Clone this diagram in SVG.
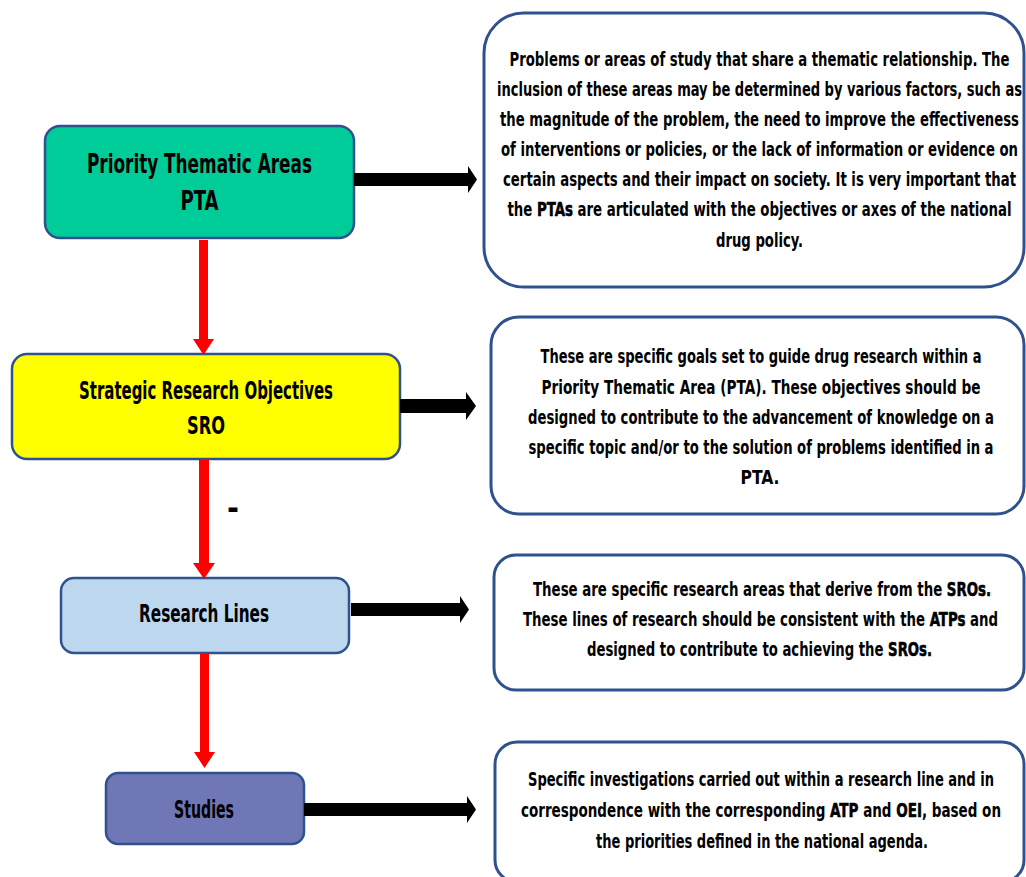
<svg xmlns="http://www.w3.org/2000/svg" width="1026" height="877" viewBox="0 0 1026 877">
<style>
text{font-family:"Liberation Sans Narrow","DejaVu Sans Condensed","Liberation Sans",sans-serif;font-weight:bold;fill:#000;text-anchor:middle}
.node{stroke:#2F528F;stroke-width:2.5}
.desc{fill:#fff;stroke:#2F528F;stroke-width:3}
.t{font-size:20px}
.h{font-size:27px}
.m{font-size:24px}
.em{stroke:#000;stroke-width:0.6}
.red{fill:#FF0000}
.blk{fill:#000}
</style>
<rect width="1026" height="877" fill="#fff"/>
<g id="pta">
<rect class="node" x="45" y="126" width="309" height="112" rx="15" fill="#00CC99"/>
<text class="h" transform="translate(199.5 173) scale(0.72 1)" textLength="312.5" lengthAdjust="spacingAndGlyphs">Priority Thematic Areas</text>
<text class="h" transform="translate(199.5 210) scale(0.72 1)" textLength="52.8" lengthAdjust="spacingAndGlyphs">PTA</text>
</g>
<g id="sro">
<rect class="node" x="12" y="354" width="388" height="105" rx="15" fill="#FFFF00"/>
<text class="m" transform="translate(206 399) scale(0.72 1)" textLength="352.8" lengthAdjust="spacingAndGlyphs">Strategic Research Objectives</text>
<text class="m" transform="translate(206 434) scale(0.72 1)" textLength="52.8" lengthAdjust="spacingAndGlyphs">SRO</text>
</g>
<g id="rl">
<rect class="node" x="61" y="578" width="288" height="75" rx="13" fill="#BDD7EE"/>
<text class="m" transform="translate(204 622) scale(0.72 1)" textLength="180.6" lengthAdjust="spacingAndGlyphs">Research Lines</text>
</g>
<g id="studies">
<rect class="node" x="106" y="773" width="198" height="71" rx="12" fill="#6F77B6"/>
<text class="m" transform="translate(204 818) scale(0.72 1)" textLength="83.3" lengthAdjust="spacingAndGlyphs">Studies</text>
</g>
<g id="desc-pta">
<rect class="desc" x="484" y="13" width="540" height="274" rx="40"/>
<text class="t" transform="translate(759.5 66) scale(0.72 1)" textLength="694.4" lengthAdjust="spacingAndGlyphs">Problems or areas of study that share a thematic relationship. The</text>
<text class="t" transform="translate(759.5 96) scale(0.72 1)" textLength="729.2" lengthAdjust="spacingAndGlyphs">inclusion of these areas may be determined by various factors, such as</text>
<text class="t" transform="translate(759.5 126) scale(0.72 1)" textLength="720.8" lengthAdjust="spacingAndGlyphs">the magnitude of the problem, the need to improve the effectiveness</text>
<text class="t" transform="translate(759.5 156) scale(0.72 1)" textLength="718.1" lengthAdjust="spacingAndGlyphs">of interventions or policies, or the lack of information or evidence on</text>
<text class="t" transform="translate(759.5 186) scale(0.72 1)" textLength="712.5" lengthAdjust="spacingAndGlyphs">certain aspects and their impact on society. It is very important that</text>
<text class="t" transform="translate(759.5 216) scale(0.72 1)" textLength="700" lengthAdjust="spacingAndGlyphs">the <tspan class="em">PTAs</tspan> are articulated with the objectives or axes of the national</text>
<text class="t" transform="translate(759.5 247) scale(0.72 1)" textLength="120.8" lengthAdjust="spacingAndGlyphs">drug policy.</text>
</g>
<g id="desc-sro">
<rect class="desc" x="491" y="317" width="533" height="197" rx="28"/>
<text class="t" transform="translate(761 363) scale(0.72 1)" textLength="612.5" lengthAdjust="spacingAndGlyphs">These are specific goals set to guide drug research within a</text>
<text class="t" transform="translate(761 394) scale(0.72 1)" textLength="609.7" lengthAdjust="spacingAndGlyphs">Priority Thematic Area (PTA). These objectives should be</text>
<text class="t" transform="translate(761 424) scale(0.72 1)" textLength="647.2" lengthAdjust="spacingAndGlyphs">designed to contribute to the advancement of knowledge on a</text>
<text class="t" transform="translate(761 454) scale(0.72 1)" textLength="645.8" lengthAdjust="spacingAndGlyphs">specific topic and/or to the solution of problems identified in a</text>
<text class="t" transform="translate(760 484) scale(0.72 1)" textLength="54.2" lengthAdjust="spacingAndGlyphs">PTA.</text>
</g>
<g id="desc-rl">
<rect class="desc" x="494" y="555" width="530" height="135" rx="22"/>
<text class="t" transform="translate(762 596) scale(0.72 1)" textLength="636.1" lengthAdjust="spacingAndGlyphs">These are specific research areas that derive from the <tspan class="em">SROs.</tspan></text>
<text class="t" transform="translate(760.5 626) scale(0.72 1)" textLength="659.7" lengthAdjust="spacingAndGlyphs">These lines of research should be consistent with the <tspan class="em">ATPs</tspan> and</text>
<text class="t" transform="translate(759.5 656) scale(0.72 1)" textLength="479.2" lengthAdjust="spacingAndGlyphs">designed to contribute to achieving the <tspan class="em">SROs.</tspan></text>
</g>
<g id="desc-studies">
<rect class="desc" x="495" y="742" width="529" height="140" rx="22"/>
<text class="t" transform="translate(761 786) scale(0.72 1)" textLength="647.2" lengthAdjust="spacingAndGlyphs">Specific investigations carried out within a research line and in</text>
<text class="t" transform="translate(761 817) scale(0.72 1)" textLength="666.7" lengthAdjust="spacingAndGlyphs">correspondence with the corresponding <tspan class="em">ATP</tspan> and <tspan class="em">OEI</tspan>, based on</text>
<text class="t" transform="translate(762 848) scale(0.72 1)" textLength="461.1" lengthAdjust="spacingAndGlyphs">the priorities defined in the national agenda.</text>
</g>
<g id="connectors">
<polygon class="red" points="199,240 208,240 208,339 214,339 203.5,355 193,339 199,339"/>
<polygon class="red" points="199,460 209,460 209,563 215,563 204,579 193,563 199,563"/>
<polygon class="red" points="200,654 209,654 209,752 215,752 204.5,768 194,752 200,752"/>
<polygon class="blk" points="354,173 468,173 468,166 477,179.5 468,193 468,186 354,186"/>
<polygon class="blk" points="400,399 466,399 466,392 476,406 466,420 466,413 400,413"/>
<polygon class="blk" points="351,603 460,603 460,596 469,609.5 460,623 460,616 351,616"/>
<polygon class="blk" points="304,803 467,803 467,796 476,809.5 467,823 467,816 304,816"/>
</g>
<text x="233" y="519" style="font-size:32px">-</text>
</svg>
